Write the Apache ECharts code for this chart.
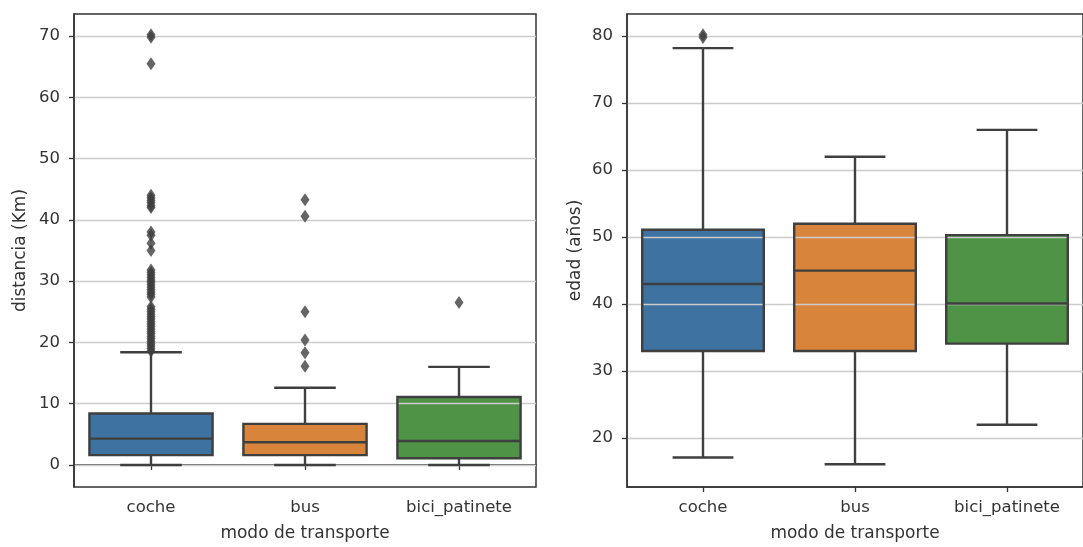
<!DOCTYPE html>
<html><head><meta charset="utf-8">
<script src="https://cdn.jsdelivr.net/npm/echarts@6/dist/echarts.min.js"></script>
<style>html,body{margin:0;padding:0;background:#fff}#c{width:1083px;height:547px}</style>
</head><body><div id="c"></div>
<script>
const categories = ['coche', 'bus', 'bici_patinete'];
const boxColors = ['#3e72a0', '#d8843b', '#4e9346'];
// [lowerWhisker, q1, median, q3, upperWhisker]
const distBoxes = [
  [0.0, 1.6, 4.3, 8.4, 18.4],
  [0.0, 1.6, 3.7, 6.7, 12.6],
  [0.0, 1.1, 3.9, 11.1, 16.0]
];
const distOutCoche = [70.2, 69.8, 65.5, 44.0, 43.6, 43.2, 42.8, 42.3, 42.0, 38.0, 37.5, 36.2, 35.0,
  31.8, 31.4, 31.0, 30.6, 30.2, 29.8, 29.4, 29.0, 28.6, 28.2, 27.8, 27.4,
  25.8, 25.4, 25.0, 24.6, 24.2, 23.8, 23.4, 23.0, 22.6, 22.2, 21.8, 21.4, 21.0, 20.6, 20.2,
  19.8, 19.4, 19.0, 18.6];
const distOutBus = [43.3, 40.6, 25.0, 20.4, 18.3, 16.1];
const distOutBici = [26.5];
const ageBoxes = [
  [17.1, 33.0, 43.0, 51.1, 78.2],
  [16.1, 33.0, 45.0, 52.0, 62.0],
  [22.0, 34.1, 40.1, 50.3, 66.0]
];
const ageOutCoche = [80.2, 79.8];
const distTicks = [0, 10, 20, 30, 40, 50, 60, 70];
const ageTicks = [20, 30, 40, 50, 60, 70, 80];

const LINE = '#3f3f3f';
const TXT = '#333333';
const FONT = 'DejaVu Sans';

function boxGeom(api) {
  const i = api.value(0);
  const band = api.size([1, 0])[0];
  const x = api.coord([i, 0])[0];
  const y = [1, 2, 3, 4, 5].map(k => api.coord([i, api.value(k)])[1]);
  return { i: i, x: x, y: y, bw: band * 0.8, cw: band * 0.4 };
}
function renderBoxFill(params, api) {
  const g = boxGeom(api);
  return { type: 'rect', shape: { x: g.x - g.bw / 2, y: g.y[3], width: g.bw, height: g.y[1] - g.y[3] },
    style: { fill: boxColors[g.i] } };
}
function renderBoxLines(params, api) {
  const g = boxGeom(api), x = g.x, y = g.y, bw = g.bw, cw = g.cw;
  const ls = { stroke: LINE, lineWidth: 2.4 };
  return {
    type: 'group',
    children: [
      { type: 'line', shape: { x1: x, y1: y[0], x2: x, y2: y[1] }, style: ls },
      { type: 'line', shape: { x1: x, y1: y[3], x2: x, y2: y[4] }, style: ls },
      { type: 'line', shape: { x1: x - cw / 2, y1: y[0], x2: x + cw / 2, y2: y[0] }, style: ls },
      { type: 'line', shape: { x1: x - cw / 2, y1: y[4], x2: x + cw / 2, y2: y[4] }, style: ls },
      { type: 'rect', shape: { x: x - bw / 2, y: y[3], width: bw, height: y[1] - y[3] },
        style: { fill: null, stroke: LINE, lineWidth: 2.4 } },
      { type: 'line', shape: { x1: x - bw / 2, y1: y[2], x2: x + bw / 2, y2: y[2] }, style: ls }
    ]
  };
}

function boxData(boxes) { return boxes.map((b, i) => [i].concat(b)); }

function xAxisCfg(gi) {
  return {
    type: 'category', gridIndex: gi, data: categories, boundaryGap: true,
    axisLine: { show: true, lineStyle: { color: TXT, width: 1.5 } },
    axisTick: { show: true, alignWithLabel: true, length: 5, lineStyle: { color: TXT, width: 1.3 } },
    axisLabel: { fontFamily: FONT, fontSize: 16.5, color: TXT, margin: 12 },
    splitLine: { show: false },
    name: 'modo de transporte', nameLocation: 'middle', nameGap: 38,
    nameTextStyle: { fontFamily: FONT, fontSize: 17, color: TXT }
  };
}
function yAxisCfg(gi, min, max, ticks, name, gap) {
  return {
    type: 'value', gridIndex: gi, min: min, max: max, z: 3,
    axisLine: { show: true, lineStyle: { color: TXT, width: 1.5 } },
    axisTick: { show: true, length: 5, customValues: ticks, lineStyle: { color: TXT, width: 1.3 } },
    axisLabel: { fontFamily: FONT, fontSize: 16.5, color: TXT, margin: 14, customValues: ticks },
    splitLine: { show: true, lineStyle: { color: '#cccccc', width: 1.4 } },
    name: name, nameLocation: 'middle', nameGap: gap,
    nameTextStyle: { fontFamily: FONT, fontSize: 17, color: TXT }
  };
}

const chart = echarts.init(document.getElementById('c'), null, { renderer: 'canvas' });
const outSym = { symbol: 'diamond', symbolSize: [9, 13], itemStyle: { color: LINE }, z: 5 };
chart.setOption({
  backgroundColor: '#ffffff',
  animation: false,
  grid: [
    { left: 74, top: 14, width: 462, height: 475, show: true, borderColor: TXT, borderWidth: 1.5, backgroundColor: 'transparent' },
    { left: 627, top: 14, width: 462, height: 475, show: true, borderColor: TXT, borderWidth: 1.5, backgroundColor: 'transparent' }
  ],
  xAxis: [xAxisCfg(0), xAxisCfg(1)],
  yAxis: [
    yAxisCfg(0, -3.6, 73.6, distTicks, 'distancia (Km)', 45),
    yAxisCfg(1, 12.7, 83.3, ageTicks, 'edad (años)', 43)
  ],
  series: [
    { type: 'custom', xAxisIndex: 0, yAxisIndex: 0, renderItem: renderBoxFill, data: boxData(distBoxes), z: 1 },
    { type: 'custom', xAxisIndex: 1, yAxisIndex: 1, renderItem: renderBoxFill, data: boxData(ageBoxes), z: 1 },
    { type: 'custom', xAxisIndex: 0, yAxisIndex: 0, renderItem: renderBoxLines, data: boxData(distBoxes), z: 4 },
    { type: 'custom', xAxisIndex: 1, yAxisIndex: 1, renderItem: renderBoxLines, data: boxData(ageBoxes), z: 4 },
    Object.assign({ type: 'scatter', xAxisIndex: 0, yAxisIndex: 0, data: distOutCoche.map(v => [0, v]) }, outSym),
    Object.assign({ type: 'scatter', xAxisIndex: 0, yAxisIndex: 0, data: distOutBus.map(v => [1, v]) }, outSym),
    Object.assign({ type: 'scatter', xAxisIndex: 0, yAxisIndex: 0, data: distOutBici.map(v => [2, v]) }, outSym),
    Object.assign({ type: 'scatter', xAxisIndex: 1, yAxisIndex: 1, data: ageOutCoche.map(v => [0, v]) }, outSym)
  ]
});
</script>
</body></html>
